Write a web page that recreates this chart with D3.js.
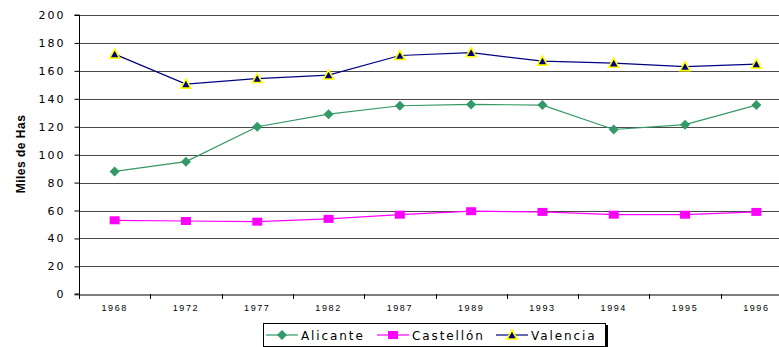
<!DOCTYPE html>
<html>
<head>
<meta charset="utf-8">
<script src="https://cdn.jsdelivr.net/npm/d3@7"></script>
<style>
  html, body { margin: 0; padding: 0; background: #fff; }
  svg { display: block; font-family: "DejaVu Sans", Verdana, sans-serif; }
</style>
</head>
<body>
<svg id="chart" width="779" height="347"></svg>
<script>
// Superficie (miles de hectáreas) por provincia
const years = ["1968", "1972", "1977", "1982", "1987", "1989", "1993", "1994", "1995", "1996"];
const alicante  = [88, 95, 120, 129, 135, 136, 135.5, 118, 121.5, 135.5];
const castellon = [53, 52.5, 52, 54, 57, 59.5, 59, 57, 57, 59];
const valencia  = [172, 150.5, 154.5, 157, 171, 173, 167, 165.5, 163, 164.8];
const yTicks = [0, 20, 40, 60, 80, 100, 120, 140, 160, 180, 200];

const series = [
  { name: "Alicante",  values: alicante,  color: "#339966", shape: "diamond" },
  { name: "Castellón", values: castellon, color: "#ff00ff", shape: "square" },
  { name: "Valencia",  values: valencia,  color: "#000080", shape: "triangle" }
];

const svg = d3.select("#chart");
const plotL = 79, plotR = 792, plotT = 15, plotB = 294.3;

const x = d3.scaleBand().domain(years).range([plotL, plotR]);
const y = d3.scaleLinear().domain([0, 200]).range([plotB, plotT]);
const cx = d => x(d) + x.bandwidth() / 2;

// horizontal gridlines
svg.append("g")
  .selectAll("line")
  .data(yTicks.filter(t => t > 0))
  .join("line")
  .attr("x1", plotL).attr("x2", plotR)
  .attr("y1", d => Math.round(y(d)) + 0.5).attr("y2", d => Math.round(y(d)) + 0.5)
  .attr("stroke", "#4a4a4a").attr("stroke-width", 1);

// y axis
const yAxis = svg.append("g")
  .attr("transform", `translate(${plotL + 0.5},0)`)
  .call(d3.axisLeft(y).tickValues(yTicks).tickSize(5).tickPadding(9).tickFormat(d3.format("d")));
yAxis.select(".domain").attr("stroke", "#000").attr("d", `M-5,${Math.round(y(0))}H0V${Math.round(y(200))}H-5`);
yAxis.selectAll(".tick line").attr("stroke", "#000");
yAxis.selectAll(".tick text")
  .attr("font-size", 11).attr("fill", "#000")
  .attr("letter-spacing", "2px")
  .attr("font-family", "'DejaVu Sans', sans-serif");

// x axis
const xAxis = svg.append("g")
  .attr("transform", `translate(0,${Math.round(plotB) + 0.5})`)
  .call(d3.axisBottom(x).tickSize(0).tickPadding(10));
xAxis.select(".domain").attr("stroke", "#000");
xAxis.selectAll(".tick text")
  .attr("font-size", 9).attr("fill", "#000")
  .attr("letter-spacing", "1.6px");
// tick marks on category boundaries
svg.append("g")
  .selectAll("line")
  .data(years.map(yr => x(yr)).concat([plotR]))
  .join("line")
  .attr("x1", d => Math.round(d) + 0.5).attr("x2", d => Math.round(d) + 0.5)
  .attr("y1", Math.round(plotB)).attr("y2", Math.round(plotB) + 5)
  .attr("stroke", "#000");

// y axis title
svg.append("text")
  .attr("transform", "translate(25,154) rotate(-90)")
  .attr("text-anchor", "middle")
  .attr("font-size", 12).attr("font-weight", "bold")
  .attr("letter-spacing", "0.5px")
  .attr("font-family", "'Liberation Sans', Arial, sans-serif")
  .text("Miles de Has");

// marker shapes
function marker(sel, shape, color) {
  if (shape === "diamond") {
    sel.append("path").attr("d", "M0,-5L5,0L0,5L-5,0Z").attr("fill", color);
  } else if (shape === "square") {
    sel.append("rect").attr("x", -5).attr("y", -4).attr("width", 10).attr("height", 8).attr("fill", color);
  } else {
    sel.append("path").attr("d", "M0,-5L5,4L-5,4Z").attr("fill", color)
      .attr("stroke", "#ffff00").attr("stroke-width", 1.6).attr("stroke-linejoin", "miter");
  }
}

const line = d3.line().x((d, i) => cx(years[i])).y(d => y(d));

series.forEach(s => {
  svg.append("path")
    .datum(s.values)
    .attr("d", line)
    .attr("fill", "none")
    .attr("stroke", s.color)
    .attr("stroke-width", 1.2);
  svg.append("g")
    .selectAll("g")
    .data(s.values)
    .join("g")
    .attr("transform", (d, i) => `translate(${cx(years[i])},${y(d)})`)
    .each(function () { marker(d3.select(this), s.shape, s.color); });
});

// legend
const lg = svg.append("g").attr("transform", "translate(263,323)");
const lw = 343, lh = 23;
lg.append("rect").attr("x", 2).attr("y", 2).attr("width", lw).attr("height", lh).attr("fill", "#000");
lg.append("rect").attr("x", 0.5).attr("y", 0.5).attr("width", lw - 1).attr("height", lh).attr("fill", "#fff").attr("stroke", "#000");
const entries = [
  { s: series[0], x: 3 },
  { s: series[1], x: 114 },
  { s: series[2], x: 233 }
];
entries.forEach(e => {
  const g = lg.append("g").attr("transform", `translate(${e.x},12)`);
  g.append("line").attr("x1", 0).attr("x2", 32).attr("stroke", e.s.color).attr("stroke-width", 1.2);
  const m = g.append("g").attr("transform", "translate(16,0)");
  marker(m, e.s.shape, e.s.color);
  g.append("text").attr("x", 35).attr("y", 5)
    .attr("font-size", 12).attr("letter-spacing", "1.9px")
    .attr("font-family", "'DejaVu Sans', sans-serif")
    .text(e.s.name);
});
</script>
</body>
</html>
